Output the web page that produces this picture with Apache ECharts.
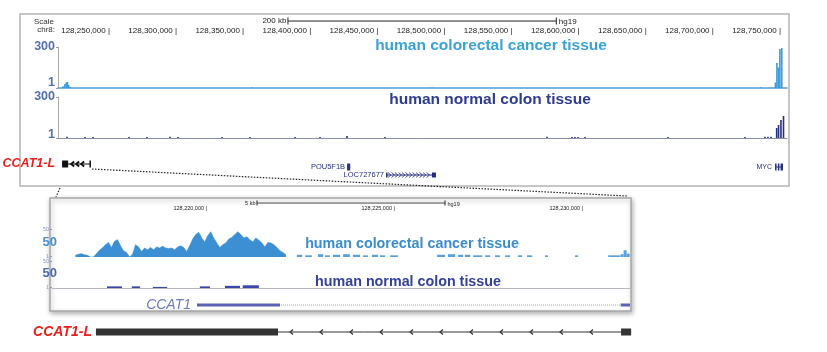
<!DOCTYPE html>
<html>
<head>
<meta charset="utf-8">
<script src="https://cdn.jsdelivr.net/npm/echarts@6/dist/echarts.min.js"></script>
<style>html,body{margin:0;background:#fff}#main{width:827px;height:352px}</style>
</head>
<body>
<div id="main"></div>
<script>
// ---- top view: chr8 window (hg19) ----
var topMin = 128211250, topMax = 128754500;
var topTicks = [128250000, 128300000, 128350000, 128400000, 128450000, 128500000, 128550000, 128600000, 128650000, 128700000, 128750000];
var topScaleBar = [128382600, 128582600];
var topYTicks = [1, 300];

// read-off peaks [position, signal]
var cancerTopPeaks = [[128215000, 12], [128216300, 28], [128217400, 40], [128218300, 44], [128219200, 22], [128220300, 8],
  [128356000, 5], [128490000, 4], [128735000, 6], [128745900, 40], [128747000, 183], [128748100, 150], [128749200, 285], [128750600, 293]];
var normalTopPeaks = [[128217950, 10], [128231400, 8], [128237300, 8], [128264200, 8], [128277600, 8], [128294700, 10], [128300700, 8],
  [128333500, 8], [128354300, 8], [128387900, 8], [128406500, 8], [128426600, 14], [128454900, 8], [128575700, 10], [128594300, 8],
  [128596500, 8], [128598800, 8], [128604000, 8], [128665800, 8], [128723200, 8], [128738100, 10], [128740300, 10], [128742600, 10],
  [128746800, 73], [128748200, 95], [128750000, 132], [128751900, 161]];

// ---- zoomed view: CCAT1 locus ----
var zoomMin = 128215878, zoomMax = 128231250;
var zoomTicks = [128220000, 128225000, 128230000];
var zoomScaleBar = [128221330, 128226330];
var zoomYTicks = [1, 50];
var cancerZoomStart = 128216500, cancerZoomStep = 80;
var cancerZoomVals = [3, 5, 6, 4, 3, 0, 0, 6, 12, 16, 22, 26, 17, 28, 31, 20, 11, 8, 0, 5,
  22, 18, 10, 16, 13, 17, 13, 18, 16, 19, 16, 15, 16, 13, 18, 20, 17, 10, 20, 32,
  40, 44, 34, 27, 38, 45, 34, 25, 17, 22, 25, 32, 35, 40, 45, 40, 34, 36, 31, 27,
  34, 30, 25, 18, 26, 25, 22, 17, 11, 8, 4];
// [start, end, signal]
var cancerZoomDashes = [[128222390, 128222530, 4], [128222610, 128222790, 3], [128222950, 128223090, 5], [128223140, 128223270, 3],
  [128223350, 128223540, 4], [128223620, 128223800, 5], [128223880, 128224070, 4], [128224150, 128224280, 3], [128224390, 128224550, 4],
  [128224600, 128224740, 3], [128224870, 128225080, 3], [128226120, 128226330, 4], [128226410, 128226600, 5], [128226680, 128226810, 4],
  [128226860, 128227000, 4], [128227080, 128227320, 3], [128227400, 128227530, 3], [128227660, 128227790, 3], [128227930, 128228060, 3],
  [128228270, 128228380, 3], [128228510, 128228650, 3], [128228990, 128229070, 3], [128229790, 128229870, 3], [128230670, 128230990, 3],
  [128231000, 128231080, 5], [128231080, 128231160, 12], [128231160, 128231240, 6]];
var normalZoomDashes = [[128217340, 128217740, 3], [128218000, 128218220, 3], [128218560, 128218940, 2], [128219810, 128220080, 3],
  [128220480, 128220880, 4], [128220950, 128221380, 5]];

// gene tables
var topGenes = {
  name: ['CCAT1-L', 'POU5F1B', 'LOC727677', 'MYC'],
  start: [128214300, 128426700, 128455700, 128745600],
  end: [128235100, 128429000, 128492900, 128751500],
  row: [14, 17, 25, 17],
  exons: [[[128214300, 128218800], [128234700, 128235100]], [[128426700, 128429000]],
    [[128455700, 128456400], [128489900, 128492900]], [[128745600, 128746600], [128747700, 128748700], [128749700, 128751500]]],
  strand: [-1, 0, 1, 0]
};
var zoomGenes = {
  name: ['CCAT1', 'CCAT1-L'],
  start: [128219734, 128217047],
  end: [128231250, 128231280],
  row: [10, 37],
  exons: [[[128219734, 128221941], [128231000, 128231250]], [[128217047, 128221889], [128231012, 128231280]]],
  strand: [0, -1]
};
// drawing styles per gene
var topGeneStyle = [
  {h: 7, fill: '#111', line: '#111', dash: null, chev: 5, chevFrom: 3, chevTo: 6, lw: 1.8, font: 'italic bold 12.5px "Liberation Sans"', color: '#e8211d', gap: 7},
  {h: 7, fill: '#27307f', line: '#27307f', dash: null, chev: 0, font: '7.5px "Liberation Sans"', color: '#27307f', gap: 2},
  {h: 5, fill: '#27307f', line: '#27307f', dash: null, chev: 3.5, chevFrom: 4, chevTo: 5, lw: 0.8, font: '7.5px "Liberation Sans"', color: '#27307f', gap: 2},
  {h: 7, fill: '#27307f', line: '#27307f', dash: null, chev: 0, font: '7px "Liberation Sans"', color: '#27307f', gap: 3}
];
var zoomGeneStyle = [
  {h: 3, fill: '#5a63b3', line: '#9aa0d4', dash: [1, 1], chev: 0, font: 'italic 14px "Liberation Sans"', color: '#7179b9', gap: 6},
  {h: 7, fill: '#333', line: '#333', dash: null, chev: 30, chevFrom: 12, chevTo: 30, lw: 1.2, font: 'italic bold 14px "Liberation Sans"', color: '#e8211d', gap: 4}
];

function commas(v) {
  return String(v).replace(/\B(?=(\d{3})+(?!\d))/g, ',');
}

function geneRenderer(g, st) {
  return function (params, api) {
    var i = params.dataIndex, s = st[i];
    var y = api.coord([g.start[i], g.row[i]])[1];
    var x0 = api.coord([g.start[i], g.row[i]])[0];
    var x1 = api.coord([g.end[i], g.row[i]])[0];
    var kids = [];
    kids.push({type: 'line', shape: {x1: x0, y1: y, x2: x1, y2: y},
      style: {stroke: s.line, lineWidth: 1, lineDash: s.dash}});
    var exEnd = x0;
    g.exons[i].forEach(function (ex, k) {
      var a = api.coord([ex[0], 0])[0], b = api.coord([ex[1], 0])[0];
      if (k === 0) exEnd = b;
      kids.push({type: 'rect', shape: {x: a, y: y - s.h / 2, width: Math.max(b - a, 1.5), height: s.h}, style: {fill: s.fill}});
    });
    if (s.chev && g.strand[i]) {
      var d = -g.strand[i];
      for (var x = exEnd + s.chevFrom; x < x1 - s.chevTo + 1; x += s.chev) {
        kids.push({type: 'polyline', shape: {points: [[x + d * 3, y - 2.5], [x, y], [x + d * 3, y + 2.5]]},
          style: {stroke: s.line, lineWidth: s.lw, fill: null}});
      }
    }
    kids.push({type: 'text', style: {text: g.name[i], x: x0 - s.gap, y: y, align: 'right', verticalAlign: 'middle',
      font: s.font, fill: s.color}});
    return {type: 'group', children: kids};
  };
}

function geneData(g) {
  return g.start.map(function (s, i) { return [s, g.end[i], g.row[i]]; });
}

function dashRenderer(color) {
  return function (params, api) {
    var p0 = api.coord([api.value(0), api.value(2)]);
    var p1 = api.coord([api.value(1), 0]);
    return {type: 'rect', shape: {x: p0[0], y: p0[1], width: Math.max(p1[0] - p0[0], 1), height: p1[1] - p0[1]},
      style: {fill: color}};
  };
}

var myChart = echarts.init(document.getElementById('main'));

var TOPL = 58, TOPW = 729, ZL = 52, ZW = 578;
var ff = '"Liberation Sans", Arial, sans-serif';

function trackY(gi, max, ticks, color, size, weight, shift) {
  return {
    gridIndex: gi, type: 'value', min: 0, max: max,
    splitLine: {show: false},
    axisLine: {show: gi < 4, lineStyle: {color: '#aaa'}},
    axisTick: {show: true, length: 2, customValues: ticks, lineStyle: {color: '#999'}},
    axisLabel: {
      customValues: ticks, margin: 3, fontFamily: ff,
      formatter: function (v) { return v === ticks[0] ? '{lo|' + v + '}' : '{hi|' + v + '}'; },
      rich: {
        lo: {color: color, fontSize: size, fontWeight: weight, padding: [0, 0, shift, 0]},
        hi: {color: color, fontSize: size, fontWeight: weight}
      }
    }
  };
}

function plainX(gi, min, max, lineColor, lw) {
  return {gridIndex: gi, type: 'value', min: min, max: max, splitLine: {show: false},
    axisTick: {show: false}, axisLabel: {show: false},
    axisLine: {show: !!lineColor, onZero: false, lineStyle: {color: lineColor || '#000', width: lw || 1}}};
}

function rulerX(gi, min, max, ticks, size) {
  return {gridIndex: gi, type: 'value', min: min, max: max, splitLine: {show: false},
    axisLine: {show: false}, axisTick: {show: false},
    axisLabel: {inside: true, margin: 1, customValues: ticks, align: 'right', fontSize: size, fontFamily: ff, color: '#222',
      formatter: function (v) { return commas(v) + ' |'; }}};
}

var option = {
  animation: false,
  grid: [
    {left: TOPL, width: TOPW, top: 14, height: 22},
    {left: TOPL, width: TOPW, top: 47, height: 41},
    {left: TOPL, width: TOPW, top: 97, height: 41},
    {left: TOPL, width: TOPW, top: 150, height: 36},
    {left: ZL, width: ZW, top: 198, height: 14},
    {left: ZL, width: ZW, top: 229, height: 28},
    {left: ZL, width: ZW, top: 261, height: 27},
    {left: ZL, width: ZW, top: 295, height: 45}
  ],
  xAxis: [
    rulerX(0, topMin, topMax, topTicks, 8),
    plainX(1, topMin, topMax, '#4f9fd8', 1.5),
    plainX(2, topMin, topMax, '#8c90b0', 1),
    plainX(3, topMin, topMax),
    rulerX(4, zoomMin, zoomMax, zoomTicks, 5.5),
    plainX(5, zoomMin, zoomMax),
    plainX(6, zoomMin, zoomMax, '#b8b8c0', 1),
    plainX(7, zoomMin, zoomMax)
  ],
  yAxis: [
    {gridIndex: 0, type: 'value', min: 0, max: 1, show: false},
    trackY(1, 300, topYTicks, '#5570b0', 12.5, 'bold', 10),
    trackY(2, 300, topYTicks, '#5570b0', 12.5, 'bold', 6),
    {gridIndex: 3, type: 'value', min: 0, max: 36, inverse: true, show: false},
    {gridIndex: 4, type: 'value', min: 0, max: 1, show: false},
    trackY(5, 50, zoomYTicks, '#8a9ac8', 5.5, 'normal', 0),
    trackY(6, 50, zoomYTicks, '#8a9ac8', 5.5, 'normal', 0),
    {gridIndex: 7, type: 'value', min: 0, max: 45, inverse: true, show: false}
  ],
  graphic: [
    {type: 'rect', z: -1, shape: {x: 20, y: 14, width: 769, height: 172}, style: {fill: 'none', stroke: '#b4b4b4', lineWidth: 1.5}},
    {type: 'rect', z: -1, shape: {x: 50, y: 198, width: 581, height: 113},
      style: {fill: '#fff', stroke: '#a8a8a8', lineWidth: 1.5, shadowBlur: 5, shadowColor: 'rgba(0,0,0,0.3)', shadowOffsetX: 1, shadowOffsetY: 2}},
    {type: 'text', style: {text: 'Scale', x: 54, y: 22, align: 'right', verticalAlign: 'middle', font: '8px ' + ff, fill: '#333'}},
    {type: 'text', style: {text: 'chr8:', x: 55, y: 30, align: 'right', verticalAlign: 'middle', font: '8px ' + ff, fill: '#333'}},
    {type: 'text', style: {text: 'human colorectal cancer tissue', x: 491, y: 46, align: 'center', verticalAlign: 'middle', font: 'bold 15.5px ' + ff, fill: '#3aa2d6'}},
    {type: 'text', style: {text: 'human normal colon tissue', x: 490, y: 100, align: 'center', verticalAlign: 'middle', font: 'bold 15.5px ' + ff, fill: '#2e3b93'}},
    {type: 'text', style: {text: 'human colorectal cancer tissue', x: 412, y: 244, align: 'center', verticalAlign: 'middle', font: 'bold 14.3px ' + ff, fill: '#3a8ccf'}},
    {type: 'text', style: {text: 'human normal colon tissue', x: 408, y: 282, align: 'center', verticalAlign: 'middle', font: 'bold 14.3px ' + ff, fill: '#33419b'}},
    {type: 'text', style: {text: '50', x: 57, y: 242, align: 'right', verticalAlign: 'middle', font: 'bold 13px ' + ff, fill: '#4a90d0'}},
    {type: 'text', style: {text: '50', x: 57, y: 273, align: 'right', verticalAlign: 'middle', font: 'bold 13px ' + ff, fill: '#4d6ab0'}},
    {type: 'line', shape: {x1: 92, y1: 169, x2: 627, y2: 196}, style: {stroke: '#222', lineWidth: 1.2, lineDash: [1.5, 1.5]}},
    {type: 'line', shape: {x1: 60, y1: 188, x2: 56, y2: 197}, style: {stroke: '#222', lineWidth: 1.2, lineDash: [1.5, 1.5]}}
  ],
  series: [
    {type: 'line', xAxisIndex: 0, yAxisIndex: 0, symbol: 'rect', symbolSize: [1, 7],
      lineStyle: {color: '#222', width: 1}, itemStyle: {color: '#222'},
      data: [
        {value: [topScaleBar[0], 0.68], label: {show: true, position: 'left', distance: 1, fontSize: 8, fontFamily: ff, color: '#222',
          formatter: (topScaleBar[1] - topScaleBar[0]) / 1000 + ' kb'}},
        {value: [topScaleBar[1], 0.68], label: {show: true, position: 'right', distance: 2, fontSize: 8, fontFamily: ff, color: '#222', offset: [0, 1], formatter: 'hg19'}}
      ]},
    {type: 'bar', xAxisIndex: 1, yAxisIndex: 1, barWidth: 1.6, itemStyle: {color: '#3d9ad8'}, data: cancerTopPeaks},
    {type: 'bar', xAxisIndex: 2, yAxisIndex: 2, barWidth: 1.6, itemStyle: {color: '#27307f'}, data: normalTopPeaks},
    {type: 'custom', xAxisIndex: 3, yAxisIndex: 3, clip: false, renderItem: geneRenderer(topGenes, topGeneStyle),
      encode: {x: [0, 1], y: 2}, data: geneData(topGenes)},
    {type: 'line', xAxisIndex: 4, yAxisIndex: 4, symbol: 'rect', symbolSize: [1, 5],
      lineStyle: {color: '#222', width: 0.8}, itemStyle: {color: '#222'},
      data: [
        {value: [zoomScaleBar[0], 0.64], label: {show: true, position: 'left', distance: 1, fontSize: 5.5, fontFamily: ff, color: '#222',
          formatter: (zoomScaleBar[1] - zoomScaleBar[0]) / 1000 + ' kb'}},
        {value: [zoomScaleBar[1], 0.64], label: {show: true, position: 'right', distance: 2, fontSize: 5.5, fontFamily: ff, color: '#222', offset: [0, 1], formatter: 'hg19'}}
      ]},
    {type: 'line', xAxisIndex: 5, yAxisIndex: 5, symbol: 'none', lineStyle: {color: '#3d8fd4', width: 0.6},
      areaStyle: {color: '#3d8fd4', opacity: 1},
      data: cancerZoomVals.map(function (v, i) { return [cancerZoomStart + i * cancerZoomStep, v]; })},
    {type: 'custom', xAxisIndex: 5, yAxisIndex: 5, renderItem: dashRenderer('#5aa0dc'),
      encode: {x: [0, 1], y: 2}, data: cancerZoomDashes},
    {type: 'custom', xAxisIndex: 6, yAxisIndex: 6, renderItem: dashRenderer('#3a47a8'),
      encode: {x: [0, 1], y: 2}, data: normalZoomDashes},
    {type: 'custom', xAxisIndex: 7, yAxisIndex: 7, clip: false, renderItem: geneRenderer(zoomGenes, zoomGeneStyle),
      encode: {x: [0, 1], y: 2}, data: geneData(zoomGenes)}
  ]
};

myChart.setOption(option);
</script>
</body>
</html>
